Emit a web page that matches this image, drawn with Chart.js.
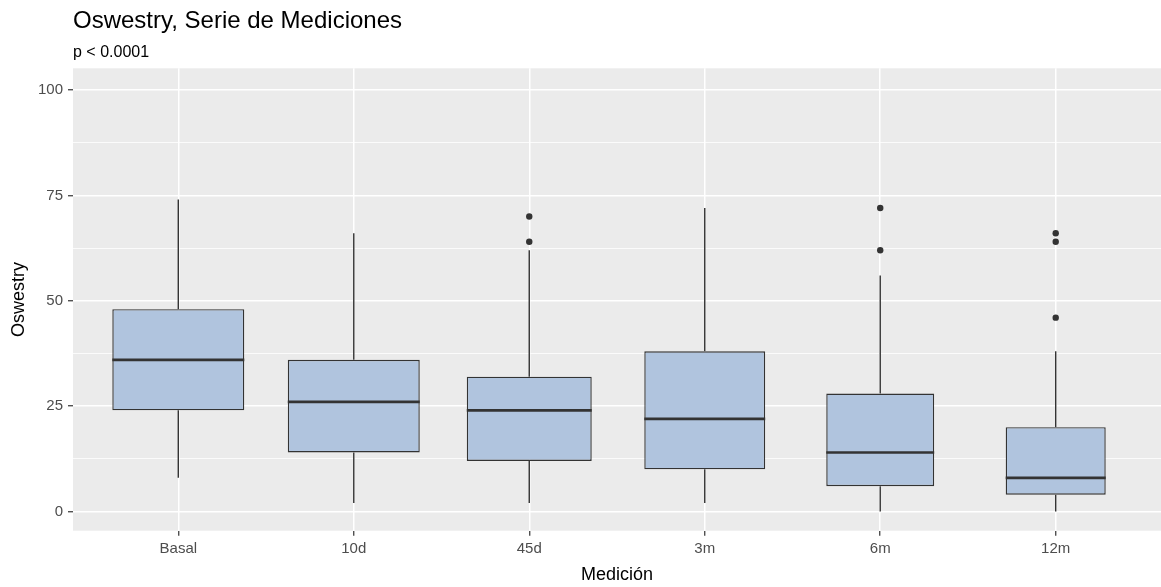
<!DOCTYPE html>
<html>
<head>
<meta charset="utf-8">
<title>Oswestry, Serie de Mediciones</title>
<script src="https://cdn.jsdelivr.net/npm/chart.js@4.4.1/dist/chart.umd.min.js"></script>
<style>
  html, body { margin: 0; padding: 0; background: #ffffff; overflow: hidden; }
  #wrap { width: 1161px; height: 587px; position: relative; }
  #c { display: block; }
</style>
</head>
<body>
<div id="wrap"><canvas id="c" width="1161" height="587"></canvas></div>
<script>
// Five-number summaries per measurement time
const categories  = ['Basal', '10d', '45d', '3m', '6m', '12m'];
const whiskerLow  = [8, 2, 2, 2, 0, 0];
const q1          = [24, 14, 12, 10, 6, 4];
const median      = [36, 26, 24, 22, 14, 8];
const q3          = [48, 36, 32, 38, 28, 20];
const whiskerHigh = [74, 66, 62, 72, 56, 38];

// Outliers: index of the group and the value
const outlierGroup = [2, 2, 4, 4, 5, 5, 5];
const outlierValue = [70, 64, 72, 62, 66, 64, 46];

// Axis ticks
const yMajorTicks = [0, 25, 50, 75, 100];
const yMinorTicks = [12.5, 37.5, 62.5, 87.5];

// Box width as a share of the category spacing (variable-width boxes)
const boxWidthFraction = [0.752, 0.752, 0.712, 0.689, 0.615, 0.570];

const titleText = 'Oswestry, Serie de Mediciones';
const subtitleText = 'p < 0.0001';

const FONT = '"Liberation Sans", Arial, Helvetica, sans-serif';
const INK = '#333333';

// Grey panel behind the grid
const panelBackground = {
  id: 'panelBackground',
  beforeDraw(chart) {
    const { ctx, chartArea: a } = chart;
    ctx.save();
    ctx.fillStyle = '#EBEBEB';
    ctx.fillRect(a.left, a.top, a.right - a.left, a.bottom - a.top);
    ctx.restore();
  }
};

// Whiskers (behind the boxes) and medians (on top)
const boxParts = {
  id: 'boxParts',
  beforeDatasetsDraw(chart) {
    const { ctx, scales: { x, y } } = chart;
    ctx.save();
    ctx.strokeStyle = INK;
    ctx.lineWidth = 1.4;
    categories.forEach((_, i) => {
      const px = x.getPixelForValue(i);
      ctx.beginPath();
      ctx.moveTo(px, y.getPixelForValue(whiskerLow[i]));
      ctx.lineTo(px, y.getPixelForValue(q1[i]));
      ctx.moveTo(px, y.getPixelForValue(q3[i]));
      ctx.lineTo(px, y.getPixelForValue(whiskerHigh[i]));
      ctx.stroke();
    });
    ctx.restore();
  },
  afterDatasetsDraw(chart) {
    const { ctx, scales: { y } } = chart;
    ctx.save();
    ctx.strokeStyle = INK;
    ctx.lineWidth = 2.7;
    categories.forEach((_, i) => {
      const bar = chart.getDatasetMeta(i).data[0];
      const py = y.getPixelForValue(median[i]);
      ctx.beginPath();
      ctx.moveTo(bar.x - bar.width / 2, py);
      ctx.lineTo(bar.x + bar.width / 2, py);
      ctx.stroke();
    });
    ctx.restore();
  }
};

// Title and subtitle aligned with the panel's left edge
const headings = {
  id: 'headings',
  afterDraw(chart) {
    const { ctx, chartArea: a } = chart;
    ctx.save();
    ctx.fillStyle = '#000000';
    ctx.textAlign = 'left';
    ctx.textBaseline = 'alphabetic';
    ctx.font = '24px ' + FONT;
    ctx.fillText(titleText, a.left, 28);
    ctx.font = '16px ' + FONT;
    ctx.fillText(subtitleText, a.left, 57);
    ctx.restore();
  }
};

// One floating bar (Q1..Q3) per group, each with its own width
const boxDatasets = categories.map((name, i) => ({
  type: 'bar',
  label: name,
  data: [{ x: i, y: [q1[i], q3[i]] }],
  backgroundColor: '#B0C4DE',
  borderColor: INK,
  borderWidth: 1.4,
  borderSkipped: false,
  grouped: false,
  barPercentage: boxWidthFraction[i],
  categoryPercentage: 1.0,
  order: 2
}));

const outlierDataset = {
  type: 'scatter',
  label: 'Atípicos',
  data: outlierGroup.map((g, k) => ({ x: g, y: outlierValue[k] })),
  backgroundColor: INK,
  borderWidth: 0,
  pointRadius: 3.2,
  order: 1
};

new Chart(document.getElementById('c'), {
  type: 'bar',
  data: { datasets: boxDatasets.concat([outlierDataset]) },
  options: {
    responsive: false,
    devicePixelRatio: 1,
    animation: false,
    events: [],
    layout: { autoPadding: false, padding: { top: 68.3, right: 0, left: 0, bottom: 0 } },
    plugins: {
      legend: { display: false },
      tooltip: { enabled: false },
      title: { display: false }
    },
    scales: {
      x: {
        type: 'linear',
        min: -0.6,
        max: 5.6,
        offset: false,
        afterBuildTicks: s => { s.ticks = categories.map((_, i) => ({ value: i })); },
        afterFit: s => {
          s.height = 56.3;
          s.paddingLeft = 0;
          s.paddingRight = 0;
        },
        border: { display: false },
        grid: {
          offset: false,
          color: '#FFFFFF',
          lineWidth: 1.5,
          drawTicks: true,
          tickLength: 5,
          tickColor: INK,
          tickWidth: 1.2
        },
        ticks: {
          callback: v => categories[v],
          autoSkip: false,
          maxRotation: 0,
          padding: 4.5,
          color: '#4D4D4D',
          font: { family: FONT, size: 15 }
        },
        title: {
          display: true,
          text: 'Medición',
          color: '#000000',
          font: { family: FONT, size: 18 },
          padding: { top: 0, bottom: 1 }
        }
      },
      y: {
        type: 'linear',
        min: -4.55,
        max: 105.15,
        afterBuildTicks: s => {
          s.ticks = yMajorTicks.concat(yMinorTicks).sort((a, b) => a - b).map(v => ({ value: v }));
        },
        afterFit: s => {
          s.width = 73;
          s.paddingTop = 0;
          s.paddingBottom = 0;
        },
        border: { display: false },
        grid: {
          color: '#FFFFFF',
          lineWidth: c => (yMajorTicks.includes(c.tick.value) ? 1.5 : 0.8),
          drawTicks: true,
          tickLength: 5,
          tickColor: c => (yMajorTicks.includes(c.tick.value) ? INK : 'rgba(0,0,0,0)'),
          tickWidth: 1.2
        },
        ticks: {
          callback: v => (yMajorTicks.includes(v) ? String(v) : ''),
          padding: 5,
          color: '#4D4D4D',
          font: { family: FONT, size: 15 }
        },
        title: {
          display: true,
          text: 'Oswestry',
          color: '#000000',
          font: { family: FONT, size: 18 },
          padding: { top: 8, bottom: 0 }
        }
      }
    }
  },
  plugins: [panelBackground, boxParts, headings]
});
</script>
</body>
</html>
